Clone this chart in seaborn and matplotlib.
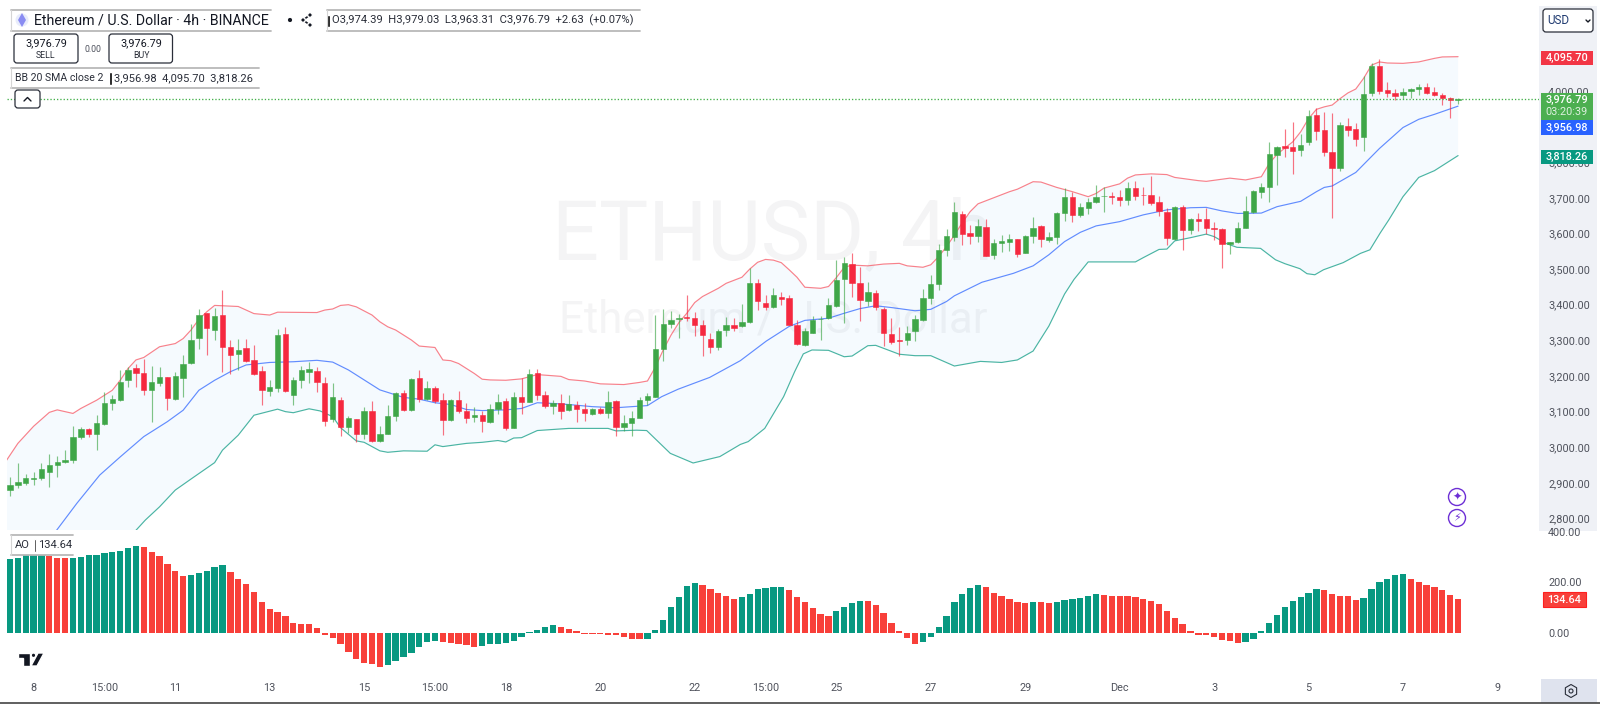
import numpy as np
import pandas as pd
import seaborn as sns
import matplotlib.pyplot as plt
from matplotlib.patches import Rectangle, FancyBboxPatch, Circle, Polygon, RegularPolygon

# Candles, 4h bars, one value per bar
opens = [2880,2895,2901,2911,2915,2932,2949,2958,2964,3028,
         3051,3038,3065,3124,3133,3188,3223,3208,3160,3180,
         3196,3136,3195,3236,3306,3376,3330,3371,3280,3262,
         3278,3244,3214,3158,3165,3318,3148,3189,3211,3214,
         3181,3080,3134,3056,3078,3038,3101,3018,3038,3089,
         3152,3105,3193,3135,3166,3132,3077,3134,3103,3086,
         3092,3071,3107,3130,3055,3142,3128,3208,3146,3117,
         3124,3104,3120,3107,3093,3107,3097,3130,3056,3068,
         3083,3134,3142,3275,3346,3359,3366,3364,3344,3305,
         3280,3328,3344,3339,3351,3462,3405,3393,3423,3420,
         3342,3287,3322,3359,3362,3395,3472,3515,3462,3410,
         3432,3388,3317,3301,3302,3325,3356,3420,3457,3553,
         3591,3654,3600,3592,3617,3540,3572,3577,3583,3545,
         3594,3620,3581,3589,3658,3701,3652,3670,3687,3704,
         3705,3701,3693,3727,3709,3708,3688,3661,3584,3673,
         3610,3641,3640,3614,3611,3570,3575,3616,3660,3716,
         3730,3819,3845,3841,3834,3857,3931,3891,3828,3784,
         3902,3894,3870,3994,4069,4002,3995,3988,4000,4006,
         4012,3996,3987,3980,3974.39]
highs = [2917,2957,2924,2931,2957,2981,2975,2992,3059,3056,
         3053,3091,3154,3148,3217,3224,3233,3247,3229,3224,
         3198,3211,3259,3345,3387,3378,3390,3441,3301,3305,
         3305,3286,3228,3189,3332,3337,3196,3229,3238,3224,
         3196,3179,3140,3089,3080,3112,3131,3060,3120,3155,
         3162,3193,3217,3185,3172,3152,3136,3158,3125,3113,
         3102,3121,3150,3137,3154,3195,3221,3219,3158,3132,
         3150,3146,3131,3123,3111,3114,3158,3132,3090,3101,
         3142,3151,3372,3387,3383,3374,3427,3380,3357,3320,
         3331,3365,3362,3402,3502,3473,3428,3448,3436,3427,
         3357,3334,3369,3369,3418,3524,3533,3544,3507,3463,
         3441,3393,3362,3337,3341,3372,3443,3484,3571,3613,
         3688,3664,3624,3640,3640,3583,3596,3598,3584,3596,
         3645,3624,3603,3661,3727,3717,3684,3698,3736,3729,
         3717,3722,3743,3748,3731,3761,3706,3670,3678,3680,
         3642,3656,3670,3632,3614,3577,3631,3706,3723,3740,
         3855,3845,3892,3912,3880,3945,3953,3941,3939,3912,
         3924,3910,4041,4077,4088,4025,4004,4009,4009,4020,
         4023,4011,3995,3983,3979.03]
lows = [2863,2887,2894,2895,2908,2889,2917,2955,2957,3022,
        3028,2992,3063,3104,3131,3170,3168,3148,3070,3172,
        3106,3134,3141,3233,3275,3259,3301,3212,3205,3218,
        3240,3203,3118,3144,3156,3156,3118,3165,3179,3156,
        3061,3070,3033,3039,3016,3023,3016,3014,3036,3073,
        3102,3103,3127,3132,3123,3035,3075,3095,3067,3072,
        3044,3069,3094,3048,3054,3094,3127,3134,3109,3094,
        3079,3101,3070,3073,3090,3094,3081,3031,3046,3033,
        3081,3118,3140,3243,3334,3306,3353,3311,3257,3264,
        3273,3311,3325,3337,3348,3386,3384,3391,3398,3342,
        3287,3285,3320,3301,3360,3393,3348,3423,3353,3397,
        3384,3283,3290,3255,3287,3299,3354,3402,3442,3537,
        3580,3568,3569,3577,3536,3529,3549,3552,3535,3544,
        3574,3563,3577,3569,3636,3633,3645,3655,3686,3661,
        3683,3678,3680,3694,3680,3680,3649,3568,3582,3554,
        3598,3608,3598,3582,3504,3542,3572,3614,3658,3699,
        3689,3735,3813,3768,3817,3848,3862,3817,3644,3776,
        3874,3846,3832,3985,3992,3983,3974,3977,3980,3988,
        3992,3986,3960,3925,3963.31]
closes = [2894,2902,2914,2914,2938,2950,2960,2965,3030,3051,
          3038,3068,3125,3135,3184,3218,3208,3161,3184,3196,
          3139,3199,3235,3302,3371,3335,3369,3282,3260,3273,
          3242,3205,3161,3169,3315,3159,3189,3216,3219,3184,
          3074,3142,3056,3081,3038,3101,3019,3036,3088,3152,
          3104,3191,3135,3167,3129,3077,3134,3103,3083,3092,
          3074,3107,3127,3053,3142,3128,3206,3147,3117,3124,
          3103,3122,3107,3095,3107,3097,3127,3056,3068,3081,
          3132,3145,3275,3347,3357,3364,3363,3344,3314,3280,
          3325,3342,3336,3352,3462,3409,3393,3426,3417,3344,
          3290,3325,3358,3361,3399,3470,3516,3462,3413,3435,
          3393,3322,3295,3299,3322,3359,3420,3458,3553,3592,
          3660,3599,3592,3620,3538,3572,3578,3583,3543,3592,
          3614,3585,3590,3656,3701,3652,3673,3688,3701,3706,
          3703,3693,3727,3706,3708,3686,3663,3587,3673,3610,
          3641,3636,3614,3612,3570,3576,3614,3662,3719,3730,
          3823,3843,3840,3831,3848,3929,3888,3828,3784,3904,
          3891,3865,3992,4069,4000,3994,3986,3998,4005,4010,
          3994,3988,3980,3974,3976.79]

# Bollinger lines, read at their kinks (bar number, price)
upper_bar = [-1,1,3,5,6,8,9,11,13,14,15,16,17,19,21,22,23,24,25,26,29,31,33,34,39,40,41,42,43,44,
             46,47,48,49,50,51,52,54,55,56,57,58,59,60,61,63,65,67,70,71,73,75,78,80,81,82,83,84,85,86,
             87,88,90,91,93,94,95,96,97,98,99,100,101,103,104,105,106,107,109,111,113,114,116,117,118,119,120,121,122,123,
             125,127,128,130,131,133,135,137,138,139,141,142,143,145,147,148,151,152,155,157,159,160,161,163,164,165,166,167,168,169,
             170,171,172,173,174,175,177,179,181,182,184]
upper_val = [2945,3011,3059,3098,3105,3095,3109,3132,3160,3188,3221,3245,3252,3282,3291,3305,3329,3359,3380,3398,3395,3375,3371,3379,3378,3385,3388,3398,3400,3394,
             3371,3352,3338,3329,3315,3301,3284,3280,3245,3243,3235,3221,3207,3191,3189,3188,3192,3204,3199,3190,3186,3178,3176,3182,3186,3225,3273,3315,3350,3376,
             3406,3423,3446,3460,3477,3500,3519,3527,3525,3518,3498,3477,3449,3446,3451,3476,3505,3511,3509,3514,3516,3509,3505,3512,3535,3563,3595,3630,3661,3683,
             3700,3717,3724,3745,3744,3729,3717,3703,3712,3727,3739,3755,3764,3767,3765,3757,3748,3746,3755,3750,3759,3796,3822,3857,3885,3922,3948,3955,3960,3978,
             3994,4005,4035,4072,4081,4078,4077,4081,4091,4095,4095.70]
basis_bar = [5.5,6.9,8.5,11.4,14,17,20,22,24,26,28,30,33,36,39,41,43,45,47,49,50,52,54,56,58,60,63,65,67,69,
             71,74,77,81,82.8,84.9,88.9,92.8,96.1,99,101,104,106,108,110,112,115,117,119,120,123.5,127.5,130,132,134,136,138,141,144,147,
             150,152,154,156,159,161,164,166,167,168,171,174,177,179,181,184]
basis_val = [2755,2796,2843,2922,2973,3030,3072,3104,3160,3188,3212,3231,3238,3240,3244,3239,3217,3189,3161,3147,3140,3135,3125,3120,3106,3103,3105,3109,3125,3123,
             3120,3114,3111,3117,3142,3163,3196,3243,3298,3339,3356,3362,3376,3389,3397,3392,3383,3387,3409,3425,3463,3488,3509,3540,3577,3603,3621,3633,3652,3666,
             3672,3673,3663,3656,3657,3675,3690,3717,3729,3733,3771,3838,3897,3920,3934,3956.98]
lower_bar = [-1,15.5,17.2,19,21,23,26,27,29,31,34,35,36,38,39.4,41,42,44,45,47,48,50,53,54,55,58,60,62,63,64,
             65,67,71,76,77,79.6,80.9,83.9,86.8,90.2,92.8,93.8,95.9,98.3,99.7,100.8,101.9,104,106,107,109,110,113,115,117,120,123.3,126,128,130,
             132,134,135.2,137,143,144,146,147,148,150,152,153,154.6,155.9,158.9,160.8,162,163.9,164.8,165.8,166.9,169.4,171.6,172.8,174.1,175.2,177,179,181,184]
lower_val = [2560,2755,2796,2833,2880,2911,2957,2992,3034,3090,3107,3100,3097,3108,3102,3086,3055,3018,3014,2990,2986,2990,2989,3007,3002,3011,3014,3019,3015,3026,
             3027,3047,3053,3053,3046,3048,3047,2983,2956,2974,3008,3016,3053,3142,3212,3262,3273,3272,3254,3256,3285,3286,3261,3257,3257,3228,3241,3238,3245,3270,
             3340,3430,3471,3520,3520,3532,3555,3556,3579,3588,3598,3591,3571,3561,3558,3526,3515,3501,3487,3484,3498,3518,3544,3554,3601,3638,3703,3757,3776,3818.26]

# Awesome Oscillator histogram
ao_vals = [291,298,308,312,312,306,296,296,296,300,308,308,318,321,325,336,344,339,321,304,
           273,245,225,229,235,245,259,267,241,213,193,161,120,93,82,65,40,36,36,19,
           -11,-21,-45,-77,-105,-119,-124,-135,-128,-112,-97,-81,-56,-38,-32,-38,-42,-45,-48,-56,
           -53,-45,-45,-42,-32,-16,3,12,22,30,22,15,5,-5,-5,-5,-8,-11,-17,-24,
           -24,-24,9,50,103,142,187,197,189,172,157,144,134,142,155,172,176,183,183,168,
           142,120,99,75,67,86,102,116,127,127,108,77,40,8,-21,-45,-36,-17,22,67,
           120,155,176,189,181,157,144,134,123,116,120,120,116,120,131,134,138,144,155,151,
           147,147,147,142,134,126,114,86,57,33,5,-11,-11,-16,-28,-34,-42,-38,-25,5,
           40,70,102,124,142,157,173,168,155,147,144,130,138,173,202,213,229,233,213,200,
           189,183,168,151,134.64]
ao_runs = [("up",5),("down",3),("up",9),("down",6),("up",5),("down",20),("up",7),("down",5),
           ("up",10),("down",11),("up",7),("down",5),("up",6),("down",6),("up",4),("down",7),
           ("up",8),("down",6),("up",1),("down",2),("up",6),("down",18),("up",10),("down",5),
           ("up",6),("down",7)]

# Axis labels
price_ticks = [2800,2900,3000,3100,3200,3300,3400,3500,3600,3700,3800,3900,4000]
ao_ticks = [0,200,400]
time_bars = [3,12,21,33,45,54,63,75,87,96,105,117,129,141,153,165,177,189]
time_labels = ["8","15:00","11","13","15","15:00","18","20","22","15:00","25","27","29","Dec","3","5","7","9"]

W, H = 1600, 704
GREEN, RED = "#3FA648", "#F5283F"
BAR_UP, BAR_DOWN = "#089981", "#F8403A"
TEXT = "#4F525C"

# Pixel layout of the panes, bars are 7.87 px apart with bar 0 at x=10
LEFT, RIGHT = 7, 1539
BAR_PX, BAR0 = 7.87, 10
xlim = ((LEFT - BAR0) / BAR_PX, (RIGHT - BAR0) / BAR_PX)
PX_PER_USD, Y4000 = 0.3565, 90.8
AO_PX, AO0 = 0.252, 632.7

sns.set_style("white", {"axes.grid": False})
plt.rcParams["font.family"] = ["Roboto", "DejaVu Sans"]

fig = plt.figure(figsize=(W / 100, H / 100), dpi=100, facecolor="white")


def pane(top, bottom):
    return fig.add_axes([LEFT / W, 1 - bottom / H, (RIGHT - LEFT) / W, (bottom - top) / H])


# Grey price strip sits behind the panes
fig.add_artist(Rectangle((1539 / W, 1 - 531 / H), 58 / W, 525 / H, transform=fig.transFigure,
                         facecolor="#EFF1F6", edgecolor="none", zorder=-1))

ax = pane(6, 530)
ax.patch.set_alpha(0)
bars = np.arange(len(opens))
o, h, l, c = map(np.array, (opens, highs, lows, closes))
up = c >= o
cols = np.where(up, GREEN, RED)

# watermark, centred on the pane
mid_bar = (773 - BAR0) / BAR_PX
ax.text(mid_bar, 4000 - (236 - Y4000) / PX_PER_USD, "ETHUSD, 4h", fontsize=59.5, color="#F4F4F5",
        ha="center", va="center", zorder=0)
ax.text(mid_bar, 4000 - (320 - Y4000) / PX_PER_USD, "Ethereum / U.S. Dollar", fontsize=31.5, color="#F4F4F5",
        ha="center", va="center", zorder=0)

ax.fill(np.r_[upper_bar, lower_bar[::-1]], np.r_[upper_val, lower_val[::-1]],
        facecolor="#2196F3", alpha=0.045, edgecolor="none", zorder=1)
for xs, ys, col in [(upper_bar, upper_val, "#F7525F"), (basis_bar, basis_val, "#2962FF"),
                    (lower_bar, lower_val, "#089981")]:
    sns.lineplot(x=xs, y=ys, color=col, linewidth=0.85, alpha=0.72, estimator=None, sort=False,
                 ax=ax, zorder=2)

ax.vlines(bars, l, h, colors=cols, linewidth=0.85, alpha=0.65, zorder=3)
ax.bar(bars, np.abs(c - o), bottom=np.minimum(o, c), width=0.68, color=cols, edgecolor=cols,
       linewidth=0.4, zorder=4)
ax.axhline(closes[-1], color="#43B04A", linewidth=0.95, linestyle=(0, (1, 1.5)), zorder=5)

ax.set_xlim(*xlim)
ax.set_ylim(4000 - (530 - Y4000) / PX_PER_USD, 4000 + (Y4000 - 6) / PX_PER_USD)
ax.set_xticks([])
ax.set_yticks(price_ticks, [f"{p:,.2f}" for p in price_ticks])
ax.yaxis.tick_right()
ax.tick_params(axis="y", length=0, pad=6.5, labelsize=7.8, labelcolor=TEXT)
ax.set_xlabel("")
ax.set_ylabel("")

# AO pane
ax2 = pane(531, 672)
ax2.patch.set_alpha(0)
ao_dir = [d for d, n in ao_runs for _ in range(n)]
ao_df = pd.DataFrame({"bar": bars, "ao": ao_vals, "dir": ao_dir})
sns.barplot(data=ao_df, x="bar", y="ao", hue="dir", palette={"up": BAR_UP, "down": BAR_DOWN},
            native_scale=True, dodge=False, width=0.8, linewidth=0, saturation=1, legend=False, ax=ax2)
ax2.set_xlim(*xlim)
ax2.set_ylim((AO0 - 672) / AO_PX, (AO0 - 531) / AO_PX)
ax2.set_yticks(ao_ticks, [f"{v:.2f}" for v in ao_ticks])
ax2.yaxis.tick_right()
ax2.set_xticks(time_bars, time_labels)
ax2.tick_params(axis="y", length=0, pad=6.5, labelsize=7.8, labelcolor=TEXT)
ax2.tick_params(axis="x", length=0, pad=8, labelsize=7.8, labelcolor=TEXT)
ax2.set_xlabel("")
ax2.set_ylabel("")
sns.despine(ax=ax, left=True, bottom=True, right=True, top=True)
sns.despine(ax=ax2, left=True, bottom=True, right=True, top=True)

# Chart furniture, in pixels on a full figure overlay
ui = fig.add_axes([0, 0, 1, 1], zorder=5)
ui.set_xlim(0, W)
ui.set_ylim(H, 0)
ui.axis("off")


def strip(x0, x1, y0, y1):
    ui.add_patch(Rectangle((x0, y0), x1 - x0, y1 - y0, facecolor="white", edgecolor="none"))
    ui.plot([x0, x1], [y0, y0], color="#B9B9B9", lw=1.3)
    ui.plot([x0, x1], [y1, y1], color="#B9B9B9", lw=1.3)
    ui.plot([x0, x0], [y0, y1], color="#D5D5D5", lw=0.8)


def button(x0, x1, y0, y1):
    ui.add_patch(FancyBboxPatch((x0, y0), x1 - x0, y1 - y0, boxstyle="round,pad=0,rounding_size=3",
                                facecolor="white", edgecolor="#2A2E39", linewidth=0.9))


# Legend rows
strip(10.5, 271, 9.5, 30.7)
ui.add_patch(Circle((22, 20), 6.5, facecolor="#E8ECFB", edgecolor="none"))
ui.add_patch(Polygon([(22, 13), (26, 20), (22, 27), (18, 20)], facecolor="#8A8CF2", edgecolor="none"))
ui.text(34, 20.5, "Ethereum / U.S. Dollar · 4h · BINANCE", fontsize=10.2, color="#131722", va="center")
ui.add_patch(Circle((290, 20), 2.8, facecolor="#131722"))
ui.plot([310, 303, 310], [15, 20, 25], color="#131722", lw=1.2)
for px, py in [(310, 15), (303, 20), (310, 25)]:
    ui.add_patch(Circle((px, py), 2.3, facecolor="#131722", zorder=3))
strip(327, 640, 9.5, 30.7)
ui.add_patch(Rectangle((327, 14.5), 2.5, 12, facecolor="black"))
ui.text(332, 20.5, "O3,974.39  H3,979.03  L3,963.31  C3,976.79  +2.63  (+0.07%)", fontsize=8.1,
        color="#2A2E39", va="center")

button(14, 78, 34, 63)
ui.text(46, 43.5, "3,976.79", fontsize=7.8, color="#131722", ha="center", va="center")
ui.text(46, 56, "SELL", fontsize=6.3, color="#2A2E39", ha="center", va="center")
ui.text(93, 49.5, "0.00", fontsize=6.3, color="#50535E", ha="center", va="center")
button(109, 172.5, 34, 63)
ui.text(141, 43.5, "3,976.79", fontsize=7.8, color="#131722", ha="center", va="center")
ui.text(141, 56, "BUY", fontsize=6.3, color="#2A2E39", ha="center", va="center")

strip(10.5, 259, 67.5, 88.3)
ui.text(15, 78, "BB 20 SMA close 2", fontsize=7.6, color="#2A2E39", va="center")
ui.add_patch(Rectangle((109, 72), 2.5, 12.5, facecolor="black"))
ui.text(113.5, 78, "3,956.98  4,095.70  3,818.26", fontsize=8, color="#2A2E39", va="center")
button(15, 40, 90, 108)
ui.plot([24, 27.5, 31], [101, 97.5, 101], color="#131722", lw=1)

strip(10.7, 73, 534.7, 555)
ui.text(15, 545.5, "AO", fontsize=8, color="#2A2E39", va="center")
ui.add_patch(Rectangle((33.5, 539), 2.5, 13, facecolor="black"))
ui.text(38, 545.5, "134.64", fontsize=8, color="#2A2E39", va="center")

# Tradingview mark
ui.add_patch(Polygon([(17.5, 653), (30, 653), (30, 666), (23, 666), (23, 657.5), (17.5, 657.5)], facecolor="#131722"))
ui.add_patch(Circle((33.5, 655.3), 2.3, facecolor="#131722"))
ui.add_patch(Polygon([(38, 653), (44, 653), (37, 666), (31, 666)], facecolor="#131722"))

# Currency selector
button(1543, 1593, 9, 32)
ui.text(1547, 20.5, "USD", fontsize=8.4, color="#1F3A70", va="center")
ui.plot([1586, 1588, 1590], [20, 22, 20], color="#131722", lw=1)

# Price tags
for y0, y1, col, txt in [(51, 65, "#F23645", "4,095.70"), (120, 134.5, "#2962FF", "3,956.98"),
                         (150, 164, "#089981", "3,818.26")]:
    ui.add_patch(Rectangle((1541, y0), 52, y1 - y0, facecolor=col, edgecolor="none"))
    ui.text(1567, (y0 + y1) / 2 + 0.3, txt, fontsize=7.8, color="white", ha="center", va="center", fontweight="medium")
ui.add_patch(Rectangle((1541, 93), 52, 27, facecolor="#4CAF50", edgecolor="none"))
ui.text(1567, 99.5, "3,976.79", fontsize=7.8, color="white", ha="center", va="center", fontweight="medium")
ui.text(1567, 112, "03:20:39", fontsize=7.8, color="#DDF0DE", ha="center", va="center")
ui.add_patch(Rectangle((1543, 592), 43, 15, facecolor="#F8403A", edgecolor="#FF1F1F", linewidth=0.8))
ui.text(1564.5, 599.7, "134.64", fontsize=7.8, color="white", ha="center", va="center", fontweight="medium")

# Assistant buttons over the chart
for cy, glyph in [(497, "✦"), (518, "⚡")]:
    ui.add_patch(Circle((1457, cy), 8.5, facecolor="white", edgecolor="#6D2FD5", linewidth=1))
    ui.text(1457, cy, glyph, fontsize=8, color="#6D2FD5", ha="center", va="center", family="DejaVu Sans")

# Settings corner and bottom edge
ui.add_patch(Rectangle((1541, 679), 56, 24, facecolor="#DFE3EE", edgecolor="none"))
ui.add_patch(RegularPolygon((1571, 691), 6, radius=6.5, facecolor="none", edgecolor="#2A2E39", linewidth=0.8))
ui.add_patch(Circle((1571, 691), 2, facecolor="none", edgecolor="#2A2E39", linewidth=0.8))
ui.plot([0, W], [703.3, 703.3], color="#444444", lw=1.2)

fig.savefig("out.png", dpi=100)
